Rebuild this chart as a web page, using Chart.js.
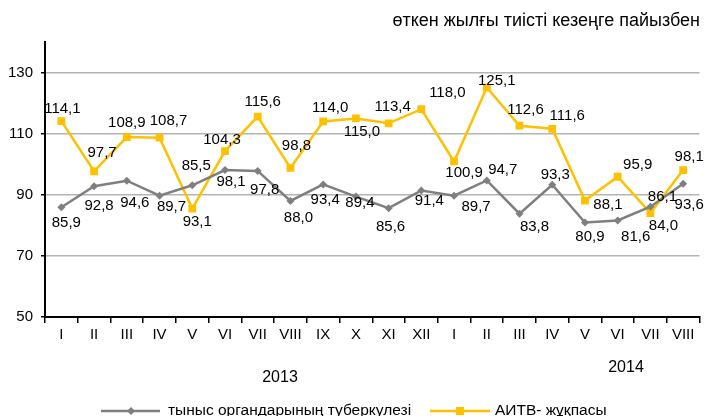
<!DOCTYPE html>
<html>
<head>
<meta charset="utf-8">
<script src="https://cdn.jsdelivr.net/npm/chart.js@4/dist/chart.umd.min.js"></script>
<style>
html,body{margin:0;padding:0;background:#fff;}
#wrap{position:relative;width:705px;height:416px;overflow:hidden;}
canvas{display:block;}
</style>
</head>
<body>
<div id="wrap"><canvas id="c" width="705" height="416"></canvas></div>
<script>
// ---- data ----
const categories = ['I','II','III','IV','V','VI','VII','VIII','IX','X','XI','XII','I','II','III','IV','V','VI','VII','VIII'];
const tbValues   = [85.9,92.8,94.6,89.7,93.1,98.1,97.8,88.0,93.4,89.4,85.6,91.4,89.7,94.7,83.8,93.3,80.9,81.6,86.1,93.6];
const hivValues  = [114.1,97.7,108.9,108.7,85.5,104.3,115.6,98.8,114.0,115.0,113.4,118.0,100.9,125.1,112.6,111.6,88.1,95.9,84.0,98.1];
const yTicks     = [50,70,90,110,130];
const yearLabels = ['2013','2014'];
const seriesNames = ['тыныс органдарының туберкулезі','АИТВ- жұқпасы'];
const titleText  = 'өткен жылғы тиісті кезеңге пайызбен';

// ---- label placement (pixel offsets from each point) ----
const hivLabelDx = [1,8,0,9,4,-3,5,6,7,6,4,26,10,10,6,15,23,20,13,6];
const hivLabelDy = [-12,-18,-14,-17,-43,-11,-15,-22,-14,13,-16,-16,11,-7,-16,-13,4,-12,13,-13];
const tbLabelDx  = [5,5,8,12,5,6,7,8,2,4,2,8,22,16,15,3,5,18,12,6];
const tbLabelDy  = [16,20,22,11,37,12,19,17,15,6,19,10,11,-11,13,-10,14,16,-10,21];

const FONT = '"Liberation Sans", Arial, sans-serif';
const GREY = '#7f7f7f';
const GOLD = '#ffc000';

const fmt = v => v.toFixed(1).replace('.', ',');

const extras = {
  id: 'extras',
  afterDatasetsDraw(chart) {
    const ctx = chart.ctx;
    ctx.save();
    ctx.font = '15px ' + FONT;
    ctx.fillStyle = '#000';
    ctx.textAlign = 'center';
    ctx.textBaseline = 'middle';
    const m0 = chart.getDatasetMeta(0), m1 = chart.getDatasetMeta(1);
    m0.data.forEach((p, i) => ctx.fillText(fmt(tbValues[i]), p.x + tbLabelDx[i], p.y + tbLabelDy[i]));
    m1.data.forEach((p, i) => ctx.fillText(fmt(hivValues[i]), p.x + hivLabelDx[i], p.y + hivLabelDy[i]));
    ctx.restore();
  },
  afterDraw(chart) {
    const ctx = chart.ctx;
    ctx.save();
    ctx.fillStyle = '#000';
    ctx.textBaseline = 'middle';
    // title
    ctx.font = '18px ' + FONT;
    ctx.textAlign = 'right';
    ctx.fillText(titleText, 700, 21);
    // year labels
    ctx.textAlign = 'center';
    ctx.font = '16px ' + FONT;
    ctx.fillText(yearLabels[0], 280, 378);
    ctx.fillText(yearLabels[1], 626, 368);
    // legend
    const ly = 411;
    ctx.lineWidth = 2.5;
    ctx.strokeStyle = GREY;
    ctx.beginPath(); ctx.moveTo(101, ly); ctx.lineTo(160, ly); ctx.stroke();
    ctx.fillStyle = GREY;
    ctx.beginPath(); ctx.moveTo(131, ly-4); ctx.lineTo(135, ly); ctx.lineTo(131, ly+4); ctx.lineTo(127, ly); ctx.closePath(); ctx.fill();
    ctx.strokeStyle = GOLD;
    ctx.beginPath(); ctx.moveTo(430, ly); ctx.lineTo(490, ly); ctx.stroke();
    ctx.fillStyle = GOLD;
    ctx.fillRect(456, ly-4, 8, 8);
    ctx.fillStyle = '#000';
    ctx.textAlign = 'left';
    ctx.font = '15.5px ' + FONT;
    ctx.fillText(seriesNames[0], 168, ly);
    ctx.fillText(seriesNames[1], 495, ly);
    ctx.restore();
  }
};

new Chart(document.getElementById('c'), {
  type: 'line',
  data: {
    labels: categories,
    datasets: [
      {
        label: seriesNames[0], data: tbValues,
        borderColor: GREY, backgroundColor: GREY, borderWidth: 2.5,
        pointStyle: 'rectRot', pointRadius: 4, pointBorderWidth: 0,
        tension: 0
      },
      {
        label: seriesNames[1], data: hivValues,
        borderColor: GOLD, backgroundColor: GOLD, borderWidth: 2.5,
        pointStyle: 'rect', pointRadius: 5.5, pointBorderWidth: 0,
        tension: 0
      }
    ]
  },
  options: {
    responsive: false,
    animation: false,
    devicePixelRatio: 1,
    layout: { padding: { left: 0, right: 5, top: 42, bottom: 0 } },
    plugins: { legend: { display: false }, title: { display: false }, tooltip: { enabled: false } },
    scales: {
      x: {
        offset: true,
        grid: { display: true, drawOnChartArea: false, offset: true, color: '#000', lineWidth: 1.5, tickLength: 6 },
        border: { display: true, color: '#000', width: 2 },
        ticks: { color: '#000', font: { family: FONT, size: 15 }, padding: 3, maxRotation: 0, autoSkip: false },
        afterFit(s) { s.height = 99; }
      },
      y: {
        min: 50, max: 140,
        afterBuildTicks(s) { s.ticks = yTicks.map(v => ({ value: v })); },
        grid: { color: '#b4b4b4', lineWidth: 1.5, tickColor: '#000', tickLength: 4, tickWidth: 1.5 },
        border: { display: true, color: '#000', width: 2 },
        ticks: { color: '#000', font: { family: FONT, size: 15 }, padding: 8 },
        afterFit(s) { s.width = 45; }
      }
    }
  },
  plugins: [extras]
});
</script>
</body>
</html>
